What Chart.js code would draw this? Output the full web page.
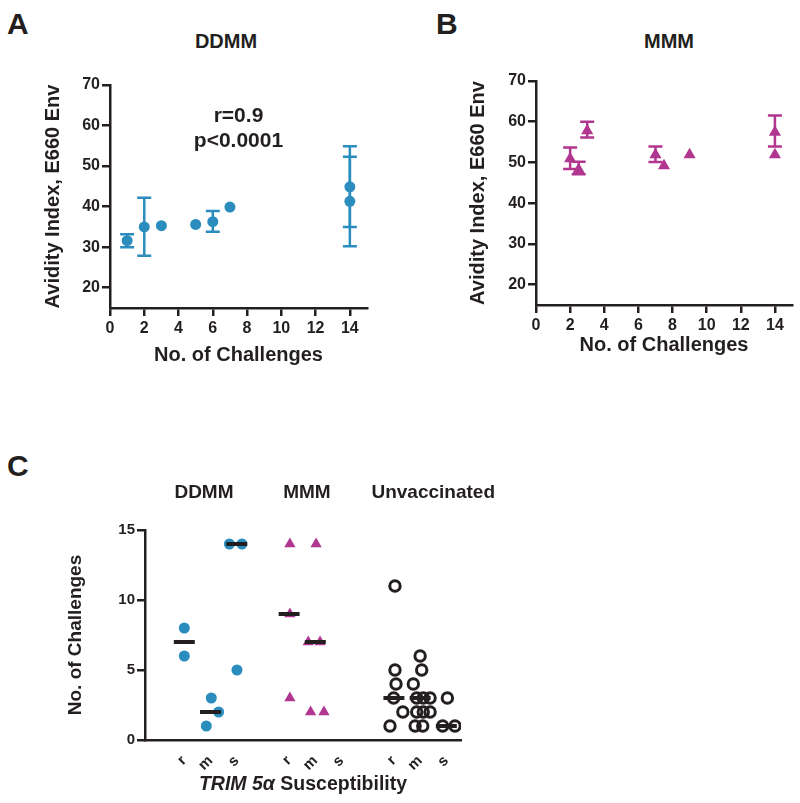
<!DOCTYPE html>
<html>
<head>
<meta charset="utf-8">
<script src="https://cdn.jsdelivr.net/npm/chart.js@4.4.0/dist/chart.umd.min.js"></script>
<style>
    body { margin: 0; background: #fff; }
    #wrap { position: relative; width: 800px; height: 803px; overflow: hidden; font-family: "Liberation Sans", Arial, sans-serif; color: #231f20; }
    #wrap canvas { position: absolute; }
    .lbl { position: absolute; font-weight: bold; white-space: nowrap; line-height: 1; }
</style>
</head>
<body>
<div id="wrap">
    <div class="lbl" style="left:7px;top:9px;font-size:30px">A</div>
    <div class="lbl" style="left:436px;top:9px;font-size:30px">B</div>
    <div class="lbl" style="left:7px;top:451px;font-size:30px">C</div>
    <div class="lbl" style="left:226px;top:31px;font-size:20px;transform:translateX(-50%)">DDMM</div>
    <div class="lbl" style="left:669px;top:31px;font-size:20px;transform:translateX(-50%)">MMM</div>
    <canvas id="chartA" width="400" height="380" style="left:0;top:0"></canvas>
    <canvas id="chartB" width="400" height="380" style="left:400px;top:0"></canvas>
    <canvas id="chartC" width="520" height="363" style="left:0;top:440px"></canvas>
</div>
<script>
// Panel A: DDMM avidity vs challenges (mean with SD bars)
const aX  = [1, 2, 3, 5, 6, 7, 14, 14];
const aY  = [31.6, 35.0, 35.3, 35.6, 36.3, 39.9, 44.9, 41.3];
const aLo = [30.0, 27.9, null, null, 33.8, null, 35.0, 30.2];
const aHi = [33.2, 42.2, null, null, 38.9, null, 54.9, 52.3];

// Panel B: MMM avidity vs challenges
const bX  = [2, 2.5, 3, 7, 7.5, 9, 14, 14];
const bY  = [50.9, 48.3, 57.8, 51.9, 49.2, 51.9, 57.4, 51.9];
const bLo = [48.4, 47.1, 56.1, 50.1, null, null, 53.9, null];
const bHi = [53.7, 50.2, 60.0, 53.9, null, null, 61.5, null];

const avidityTicks = [20, 30, 40, 50, 60, 70];
const challengeTicks = [0, 2, 4, 6, 8, 10, 12, 14];

// Panel C: challenges by TRIM5a susceptibility
const groups = ['DDMM', 'MMM', 'Unvaccinated'];
const groupTitleX = [0.75, 4.68, 9.5];
const suscLabels = ['r', 'm', 's', 'r', 'm', 's', 'r', 'm', 's'];
const suscPos = [0, 1, 2, 4, 5, 6, 8, 9, 10];
const ddmmX = [0, 0, 0.84, 1.03, 1.31, 1.72, 2.2, 2.01];
const ddmmY = [8, 6, 1, 3, 2, 14, 14, 5];
const mmmX = [4.03, 4.03, 4.03, 5.03, 4.73, 5.18, 4.82, 5.33];
const mmmY = [14, 9, 3, 14, 7, 7, 2, 2];
const unvacX = [8.04, 8.04, 8.08, 7.99, 8.34, 7.85,
                9.0, 9.06, 8.74, 8.87, 9.12, 9.38, 8.87, 9.12, 9.38, 8.81, 9.1,
                10.04, 9.86, 10.33];
const unvacY = [11, 5, 4, 3, 2, 1,
                6, 5, 4, 3, 3, 3, 2, 2, 2, 1, 1,
                3, 1, 1];
const medianX = [0, 1, 2, 4, 5, 8, 9, 10];
const medianY = [7, 2, 14, 9, 7, 3, 3, 1];
const countTicks = [0, 5, 10, 15];

const ink = '#231f20';
const blue = '#2b8cbe';
const magenta = '#b1368f';
const fam = '"Liberation Sans", Arial, sans-serif';

const toPoints = (xs, ys) => xs.map((x, i) => ({ x: x, y: ys[i] }));

// error bars drawn through the chart scales
const errorBarPlugin = {
    id: 'errorBars',
    beforeDatasetsDraw(chart, args, opts) {
        const { ctx, scales: { x, y } } = chart;
        ctx.save();
        ctx.strokeStyle = opts.color;
        ctx.lineWidth = 2.5;
        opts.xs.forEach((xv, i) => {
            if (opts.lo[i] == null) return;
            const px = x.getPixelForValue(xv);
            const pl = y.getPixelForValue(opts.lo[i]);
            const ph = y.getPixelForValue(opts.hi[i]);
            ctx.beginPath();
            ctx.moveTo(px, pl); ctx.lineTo(px, ph);
            ctx.moveTo(px - 7, pl); ctx.lineTo(px + 7, pl);
            ctx.moveTo(px - 7, ph); ctx.lineTo(px + 7, ph);
            ctx.stroke();
        });
        ctx.restore();
    }
};

const notePlugin = {
    id: 'notes',
    afterDraw(chart, args, opts) {
        if (!opts.items) return;
        const { ctx, scales: { x, y } } = chart;
        ctx.save();
        ctx.fillStyle = ink;
        ctx.font = 'bold 21px ' + fam;
        ctx.textAlign = 'center';
        ctx.textBaseline = 'middle';
        opts.items.forEach(n => ctx.fillText(n.text, x.getPixelForValue(n.x), y.getPixelForValue(n.y)));
        ctx.restore();
    }
};

const panelCPlugin = {
    id: 'panelC',
    afterDatasetsDraw(chart) {
        const { ctx, scales: { x, y }, chartArea } = chart;
        ctx.save();
        // median lines
        ctx.strokeStyle = ink;
        ctx.lineWidth = 4;
        medianX.forEach((mx, i) => {
            const py = y.getPixelForValue(medianY[i]);
            ctx.beginPath();
            ctx.moveTo(x.getPixelForValue(mx - 0.4), py);
            ctx.lineTo(x.getPixelForValue(mx + 0.4), py);
            ctx.stroke();
        });
        // group titles
        ctx.fillStyle = ink;
        ctx.textAlign = 'center';
        ctx.textBaseline = 'alphabetic';
        ctx.font = 'bold 19px ' + fam;
        groups.forEach((g, i) => ctx.fillText(g, x.getPixelForValue(groupTitleX[i]), chartArea.top - 32));
        // x title with italic gene name
        const parts = [
            { t: 'TRIM 5', f: 'italic bold 19.5px ' + fam },
            { t: 'α', f: 'italic bold 19.5px ' + fam },
            { t: ' Susceptibility', f: 'bold 19.5px ' + fam }
        ];
        let total = 0;
        parts.forEach(p => { ctx.font = p.f; p.w = ctx.measureText(p.t).width; total += p.w; });
        let cx = (chartArea.left + chartArea.right) / 2 - total / 2;
        ctx.textAlign = 'left';
        parts.forEach(p => { ctx.font = p.f; ctx.fillText(p.t, cx, chartArea.bottom + 50); cx += p.w; });
        ctx.restore();
    }
};

function xAxis(min, max, ticks, height, title) {
    return {
        type: 'linear', min: min, max: max,
        afterBuildTicks: s => { s.ticks = ticks.map(v => ({ value: v })); },
        afterFit: s => { s.height = height; },
        border: { color: ink, width: 2.5 },
        grid: { drawOnChartArea: false, tickLength: 8, color: ink, lineWidth: 2.5 },
        ticks: { color: ink, font: { family: fam, size: 16, weight: 'bold' }, padding: 3, maxRotation: 0 },
        title: { display: true, text: title, color: ink, font: { family: fam, size: 20, weight: 'bold' } }
    };
}

function yAxis(min, max, ticks, width, title, size, titleSize) {
    return {
        type: 'linear', min: min, max: max,
        afterBuildTicks: s => { s.ticks = ticks.map(v => ({ value: v })); },
        afterFit: s => { s.width = width; },
        border: { color: ink, width: 2.5 },
        grid: { drawOnChartArea: false, tickLength: 8, color: ink, lineWidth: 2.5 },
        ticks: { color: ink, font: { family: fam, size: size, weight: 'bold' }, padding: 2 },
        title: { display: true, text: title, color: ink, font: { family: fam, size: titleSize, weight: 'bold' } }
    };
}

// Panel A
new Chart(document.getElementById('chartA'), {
    type: 'scatter',
    data: {
        datasets: [{
            data: toPoints(aX, aY),
            backgroundColor: blue,
            borderWidth: 0,
            pointRadius: 5.5
        }]
    },
    options: {
        responsive: false,
        animation: false,
        layout: { padding: { left: 37, top: 85, right: 33, bottom: 9 } },
        plugins: {
            legend: { display: false },
            tooltip: { enabled: false },
            errorBars: { xs: aX, lo: aLo, hi: aHi, color: blue },
            notes: { items: [{ x: 7.5, y: 62.2, text: 'r=0.9' }, { x: 7.5, y: 56.1, text: 'p<0.0001' }] }
        },
        scales: {
            x: xAxis(0, 15, challengeTicks, 63, 'No. of Challenges'),
            y: yAxis(15, 70, avidityTicks, 73, 'Avidity Index, E660 Env', 16, 20)
        }
    },
    plugins: [errorBarPlugin, notePlugin]
});

// Panel B
new Chart(document.getElementById('chartB'), {
    type: 'scatter',
    data: {
        datasets: [{
            data: toPoints(bX, bY),
            backgroundColor: magenta,
            borderWidth: 0,
            pointStyle: 'triangle',
            pointRadius: 7
        }]
    },
    options: {
        responsive: false,
        animation: false,
        layout: { padding: { left: 62, top: 81, right: 8, bottom: 19 } },
        plugins: {
            legend: { display: false },
            tooltip: { enabled: false },
            errorBars: { xs: bX, lo: bLo, hi: bHi, color: magenta }
        },
        scales: {
            x: xAxis(0, 15, challengeTicks, 56, 'No. of Challenges'),
            y: yAxis(15, 70, avidityTicks, 74, 'Avidity Index, E660 Env', 16, 20)
        }
    },
    plugins: [errorBarPlugin]
});

// Panel C
const cX = xAxis(-1.5, 10.56, suscPos, 63, '');
cX.title = { display: false };
cX.grid = { display: false };
cX.ticks = {
    color: ink, font: { family: fam, size: 15, weight: 'bold' }, padding: 4,
    minRotation: 45, maxRotation: 45, autoSkip: false,
    callback: (v, i) => suscLabels[i]
};

new Chart(document.getElementById('chartC'), {
    type: 'scatter',
    data: {
        datasets: [
            { data: toPoints(ddmmX, ddmmY), backgroundColor: blue, borderWidth: 0, pointRadius: 5.5 },
            { data: toPoints(mmmX, mmmY), backgroundColor: magenta, borderWidth: 0, pointStyle: 'triangle', pointRadius: 6.5 },
            { data: toPoints(unvacX, unvacY), backgroundColor: 'rgba(0,0,0,0)', borderColor: ink, borderWidth: 3, pointRadius: 5.2 }
        ]
    },
    options: {
        responsive: false,
        animation: false,
        layout: { padding: { left: 60, top: 90, right: 59, bottom: 0 } },
        plugins: { legend: { display: false }, tooltip: { enabled: false } },
        scales: {
            x: cX,
            y: yAxis(0, 15, countTicks, 85, 'No. of Challenges', 15, 19)
        }
    },
    plugins: [panelCPlugin]
});
</script>
</body>
</html>
